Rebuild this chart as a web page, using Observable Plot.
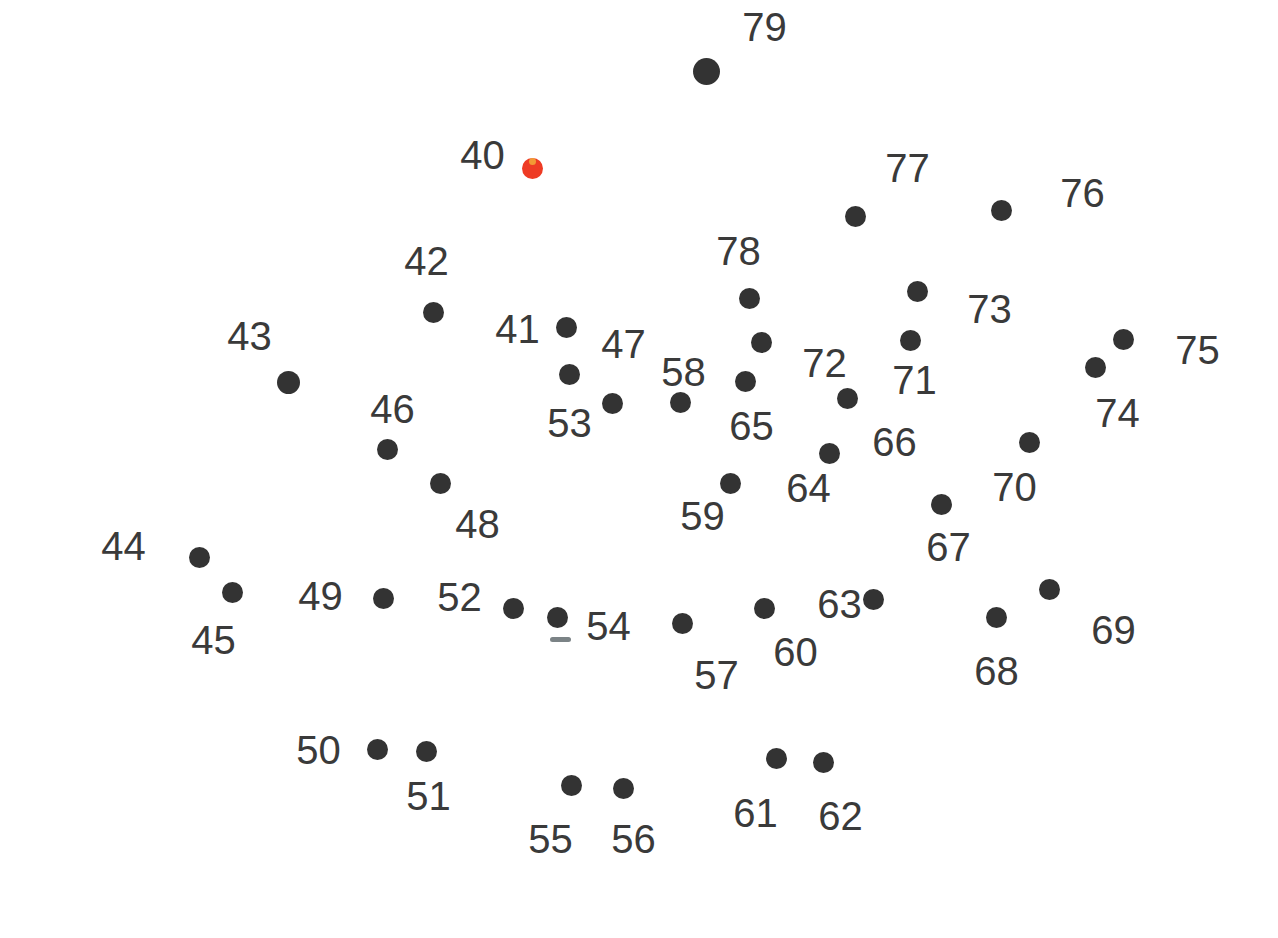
<!DOCTYPE html>
<html>
<head>
<meta charset="utf-8">
<script src="https://cdn.jsdelivr.net/npm/d3@7"></script>
<script src="https://cdn.jsdelivr.net/npm/@observablehq/plot@0.6"></script>
<style>
  html, body { margin: 0; padding: 0; background: #ffffff; }
  #chart svg { display: block; }
</style>
</head>
<body>
<div id="chart"></div>
<script>
// Dot numbers
const numbers = [40,41,42,43,44,45,46,47,48,49,50,51,52,53,54,55,56,57,58,59,
                 60,61,62,63,64,65,66,67,68,69,70,71,72,73,74,75,76,77,78,79];
// Dot positions (picture coordinates)
const dotX = [532,566,433,288,199,232,387,569,440,383,377,426,513,612,557,571,623,682,680,730,
              764,776,823,873,829,745,847,941,996,1049,1029,910,761,917,1095,1123,1001,855,749,706];
const dotY = [168,327,312,382,557,592,449,374,483,598,749,751,608,403,617,785,788,623,402,483,
              608,758,762,599,453,381,398,504,617,589,442,340,342,291,367,339,210,216,298,71];
// Label positions
const labelX = [482,517,426,249,123,213,392,623,477,320,318,428,459,569,608,550,633,716,683,702,
                795,755,840,839,808,751,894,948,996,1113,1014,914,824,989,1117,1197,1082,907,738,764];
const labelY = [156,330,262,337,547,641,410,345,525,597,751,797,598,424,627,840,840,676,373,517,
                653,814,817,605,489,427,443,548,672,631,488,381,364,310,414,351,194,169,252,28];
// Small stray mark under dot 54
const markX1 = [552], markX2 = [568], markY = [639];

const points = numbers.map((n, i) => ({n, x: dotX[i], y: dotY[i], lx: labelX[i], ly: labelY[i]}));
const marks = markX1.map((x1, i) => ({x1, x2: markX2[i], y: markY[i]}));

const chart = Plot.plot({
  width: 1278,
  height: 938,
  margin: 0,
  style: {background: "#ffffff", overflow: "visible"},
  x: {domain: [0, 1278], axis: null},
  y: {domain: [0, 938], reverse: true, axis: null},
  r: {type: "identity"},
  marks: [
    Plot.link(marks, {x1: "x1", x2: "x2", y1: "y", y2: "y", stroke: "#5a6468", strokeWidth: 5, strokeLinecap: "round", strokeOpacity: 0.8}),
    Plot.dot(points, {
      x: "x", y: "y",
      r: d => d.n === 79 ? 13.5 : (d.n === 43 ? 11.5 : 10.5),
      fill: d => d.n === 40 ? "#ee3b24" : "#333333",
      stroke: "none"
    }),
    Plot.dot(points.filter(d => d.n === 40), {x: "x", y: d => d.y - 7, r: 3.5, fill: "#f2b13a", fillOpacity: 0.8}),
    Plot.text(points, {
      x: "lx", y: "ly", text: d => String(d.n),
      fontSize: 40,
      fontFamily: "Liberation Sans, Arial, Helvetica, sans-serif",
      fill: "#3a3a3a",
      textAnchor: "middle",
      lineAnchor: "middle"
    })
  ]
});
document.getElementById("chart").appendChild(chart);
</script>
</body>
</html>
